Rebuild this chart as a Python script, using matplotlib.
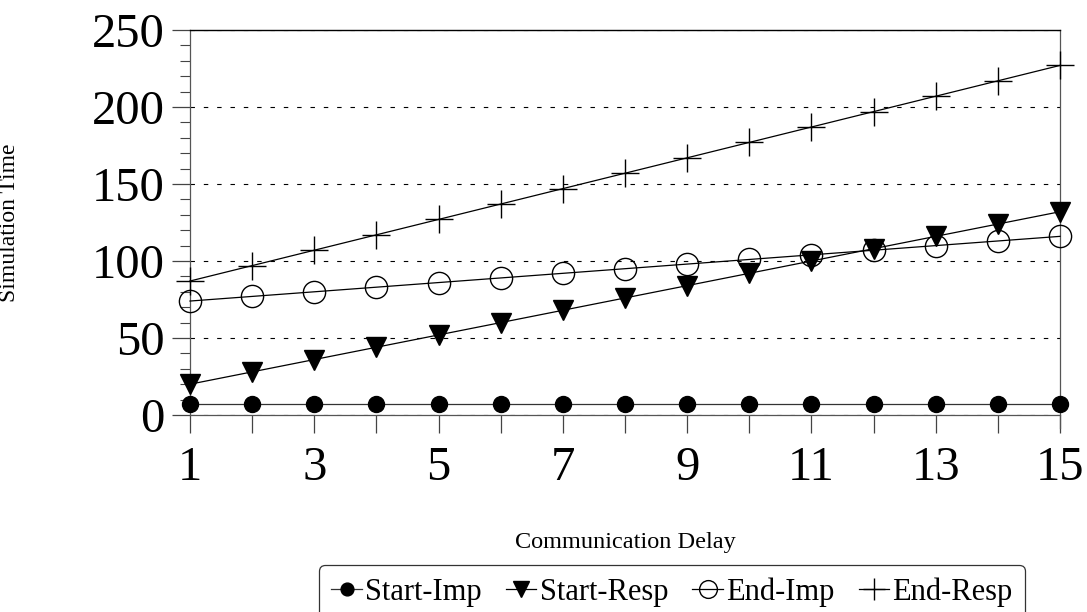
import matplotlib
matplotlib.use("Agg")
import matplotlib.pyplot as plt
from matplotlib.ticker import MultipleLocator

plt.rcParams["font.family"] = ["Liberation Serif", "DejaVu Serif"]

delay = list(range(1, 16))
start_imp = [7] * 15
start_resp = [20, 28, 36, 44, 52, 60, 68, 76, 84, 92, 100, 108, 116, 124, 132]
end_imp = [74, 77, 80, 83, 86, 89, 92, 95, 98, 101, 104, 107, 110, 113, 116]
end_resp = [87, 97, 107, 117, 127, 137, 147, 157, 167, 177, 187, 197, 207, 217, 227]
x_labels = [1, 3, 5, 7, 9, 11, 13, 15]

fig = plt.figure(figsize=(10.87, 6.12), dpi=100)
ax = fig.add_axes([190 / 1087, 1 - 415 / 612, 870 / 1087, 385 / 612])

lw = 0.9
ax.plot(delay, start_imp, color="#333333", lw=lw, marker="o", ms=11.5,
        mfc="black", mec="black", label="Start-Imp", clip_on=False, zorder=5)
ax.plot(delay, start_resp, color="black", lw=lw, marker="v", ms=15,
        mfc="black", mec="black", label="Start-Resp", clip_on=False, zorder=5)
ax.plot(delay, end_imp, color="black", lw=lw, marker="o", ms=16,
        mfc="none", mec="black", mew=1.0, label="End-Imp", clip_on=False, zorder=5)
ax.plot(delay, end_resp, color="black", lw=lw, marker="+", ms=20,
        mec="black", mew=1.0, label="End-Resp", clip_on=False, zorder=5)

ax.set_xlim(1, 15)
ax.set_ylim(0, 250)
ax.set_xticks(delay)
ax.set_xticklabels([str(d) if d in x_labels else "" for d in delay])
ax.yaxis.set_major_locator(MultipleLocator(50))
ax.yaxis.set_minor_locator(MultipleLocator(10))

ax.tick_params(axis="both", which="major", labelsize=35, colors="#444444",
               labelcolor="black", width=0.9)
ax.tick_params(axis="x", which="major", direction="out", length=13, pad=9)
ax.tick_params(axis="y", which="major", direction="out", length=13, pad=5)
ax.tick_params(axis="y", which="minor", direction="out", length=7,
               width=0.8, colors="#444444")

ax.yaxis.grid(True, which="major", linestyle=(0, (4, 8)), color="black", lw=0.8)
ax.set_axisbelow(True)

for side in ["left", "right", "bottom"]:
    ax.spines[side].set_color("#555555")
    ax.spines[side].set_linewidth(0.9)
ax.spines["top"].set_color("black")
ax.spines["top"].set_linewidth(1.0)
ax.spines["right"].set_bounds(-8.5, 250)

ax.set_xlabel("Communication Delay", fontsize=17.5)
ax.set_ylabel("Simulation Time", fontsize=17)
ax.xaxis.set_label_coords(0.5, -0.305)
ax.yaxis.set_label_coords(-0.195, 0.5)

leg = fig.legend(loc="upper center", bbox_to_anchor=(672 / 1087, 1 - 565 / 612),
                 borderaxespad=0, ncol=4, fontsize=22, markerscale=0.8,
                 frameon=True, fancybox=True, edgecolor="black",
                 handlelength=1.0, handletextpad=0.1, columnspacing=0.8,
                 borderpad=0.4)
leg.get_frame().set_linewidth(0.9)

fig.savefig("out.png", dpi=100)
